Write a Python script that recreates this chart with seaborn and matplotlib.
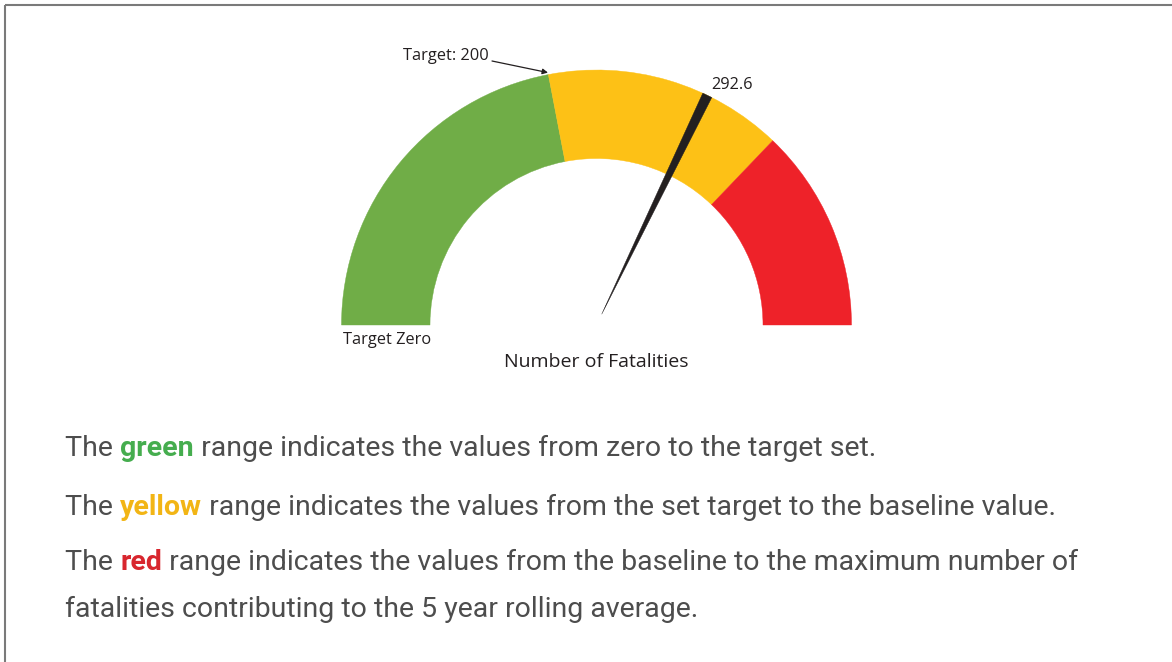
import numpy as np
import matplotlib
matplotlib.use("Agg")
import matplotlib.pyplot as plt
from matplotlib.patches import Wedge, Polygon
import seaborn as sns

# ---------------- data ----------------
range_names = ["green", "yellow", "red"]
range_bounds = [0, 200, 338, 455]          # zero, target, baseline, maximum
range_colors = ["#70AD47", "#FDC116", "#EE2229"]
target_value = 200
current_value = 292.6
target_label = "Target: 200"
value_label = "292.6"
zero_label = "Target Zero"
axis_title = "Number of Fatalities"

para_lines = [
    [("The ", "#4d4d4d", "normal"), ("green", "#45AD4E", "bold"),
     (" range indicates the values from zero to the target set.", "#4d4d4d", "normal")],
    [("The ", "#4d4d4d", "normal"), ("yellow", "#F2B515", "bold"),
     (" range indicates the values from the set target to the baseline value.", "#4d4d4d", "normal")],
    [("The ", "#4d4d4d", "normal"), ("red", "#D8262E", "bold"),
     (" range indicates the values from the baseline to the maximum number of", "#4d4d4d", "normal")],
    [("fatalities contributing to the 5 year rolling average.", "#4d4d4d", "normal")],
]
para_baselines = [456, 515, 570, 617]

# ---------------- style ----------------
sns.set_theme(style="white")
plt.rcParams['font.family'] = ['Open Sans', 'DejaVu Sans']

W, H = 1172, 662
fig = plt.figure(figsize=(W / 100, H / 100), dpi=100)
ax = fig.add_axes([0, 0, 1, 1])
ax.set_xlim(0, W)
ax.set_ylim(H, 0)
ax.set_axis_off()

# gauge geometry (layout)
CX, CY = 596.5, 325.0
R_OUT, R_IN = 255.0, 166.5
vmin, vmax = range_bounds[0], range_bounds[-1]


def val2ang(v):
    """screen angle in degrees (180 at zero, 0 at maximum)"""
    return 180.0 - (v - vmin) / (vmax - vmin) * 180.0


def pt(a_deg, r):
    a = np.deg2rad(a_deg)
    return CX + r * np.cos(a), CY - r * np.sin(a)


# coloured ranges (y axis inverted -> negate angles)
for lo, hi, col in zip(range_bounds[:-1], range_bounds[1:], range_colors):
    a1, a2 = val2ang(lo), val2ang(hi)
    ax.add_patch(Wedge((CX, CY), R_OUT, -a1, -a2, width=R_OUT - R_IN,
                       facecolor=col, edgecolor=col, lw=0.3))

# needle
a_n = val2ang(current_value)
perp = a_n - 90
tip_base = pt(a_n, 12)
top_c = pt(a_n, R_OUT)
half_w = 5.0
p1 = (top_c[0] + half_w * np.cos(np.deg2rad(perp)), top_c[1] - half_w * np.sin(np.deg2rad(perp)))
p2 = (top_c[0] - half_w * np.cos(np.deg2rad(perp)), top_c[1] + half_w * np.sin(np.deg2rad(perp)))
ax.add_patch(Polygon([tip_base, p1, p2], closed=True, facecolor="#231f20",
                     edgecolor="#231f20", lw=0.3))

dark = "#231f20"
gfont = ['Open Sans', 'DejaVu Sans']

# target marker
a_t = val2ang(target_value)
ax.annotate("", xy=pt(a_t, R_OUT + 2), xytext=(492, 61),
            arrowprops=dict(arrowstyle='-|>', lw=0.9, color=dark,
                            mutation_scale=8, shrinkA=0, shrinkB=0))
ax.text(489, 56, target_label, ha='right', va='center', fontsize=11.8,
        color=dark, family=gfont)
ax.text(732, 85, value_label, ha='center', va='center', fontsize=11.8,
        color=dark, family=gfont)
ax.text(343, 340, zero_label, ha='left', va='center', fontsize=11.8,
        color=dark, family=gfont)
ax.text(CX, 362, axis_title, ha='center', va='center', fontsize=14,
        color=dark, family=gfont)

# paragraph with coloured words
fig.canvas.draw()
renderer = fig.canvas.get_renderer()
pfont = ['Roboto', 'DejaVu Sans']
for parts, yb in zip(para_lines, para_baselines):
    x = 65.0
    for s, col, wt in parts:
        t = ax.text(x, yb, s, ha='left', va='baseline', fontsize=20.5,
                    color=col, fontweight=wt, family=pfont)
        bb = t.get_window_extent(renderer=renderer)
        x += bb.width

# frame lines
ax.plot([4.5, 4.5], [H, 4.5], color="#7a7a7a", lw=1.5, solid_capstyle='butt')
ax.plot([4.5, W], [4.5, 4.5], color="#7a7a7a", lw=1.5, solid_capstyle='butt')

fig.savefig("out.png", dpi=100, facecolor="white")
